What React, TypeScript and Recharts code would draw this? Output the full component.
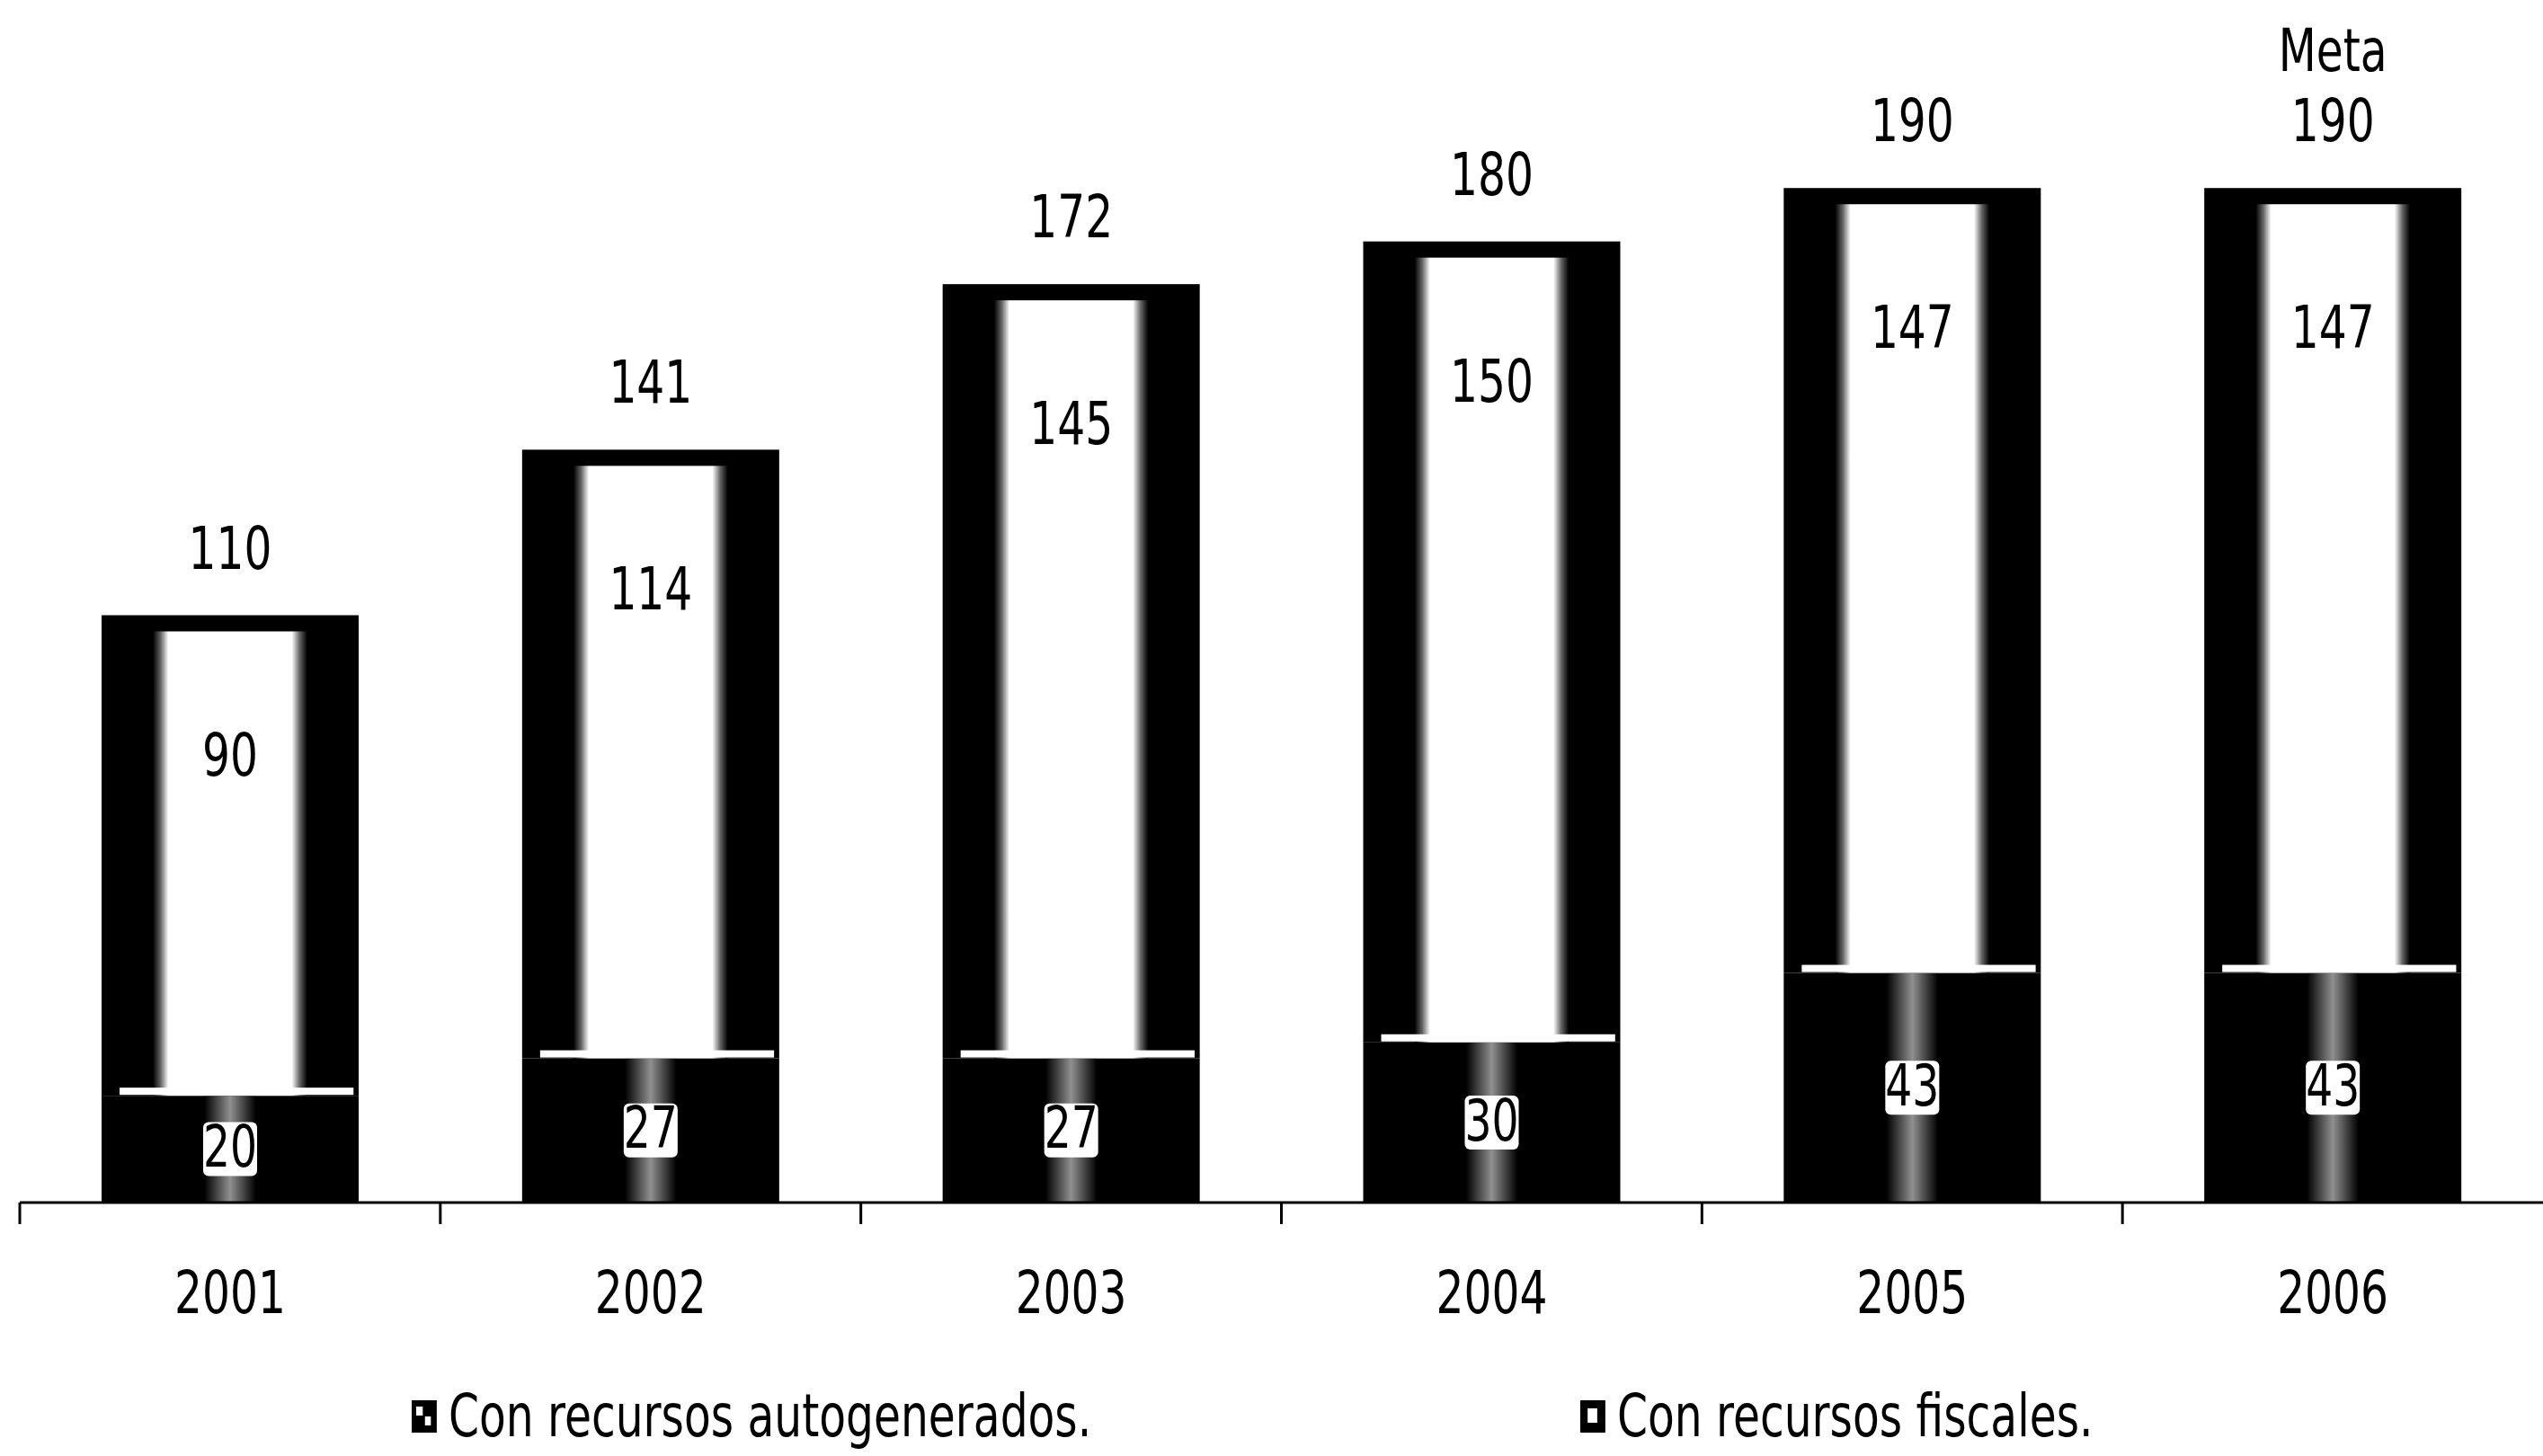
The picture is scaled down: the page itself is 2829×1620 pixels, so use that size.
import { BarChart, Bar, XAxis, YAxis, LabelList } from "recharts";

const YEARS = ["2001", "2002", "2003", "2004", "2005", "2006"];
const AUTOGENERADOS = [20, 27, 27, 30, 43, 43];
const FISCALES = [90, 114, 145, 150, 147, 147];
const TOTALES = [110, 141, 172, 180, 190, 190];
const NOTAS = ["", "", "", "", "", "Meta"];

const data = YEARS.map((year, i) => ({
  year,
  autogenerados: AUTOGENERADOS[i],
  fiscales: FISCALES[i],
  total: TOTALES[i],
}));

const W = 2829;
const H = 1620;
const MARGIN = { top: 31, right: 0, left: 22, bottom: 132 };
const BAND = (W - MARGIN.left - MARGIN.right) / YEARS.length;
const FONT = "'Liberation Sans Narrow', 'DejaVu Sans Condensed', 'Open Sans', sans-serif";
const FS = 66;
const SQUEEZE = 0.82; // the print uses a condensed face, narrower than what we have

// condensed-looking svg text
const T = ({ x, y, size = FS, children, middle }: any) => (
  <text transform={`translate(${x} ${y}) scale(${SQUEEZE} 1)`} textAnchor="middle"
    dominantBaseline={middle ? "middle" : "auto"} fontFamily={FONT} fontSize={size} fill="#000">
    {children}
  </text>
);

// top segment: black cylinder with a white highlight and a white seam at the bottom
const TopShape = (props: any) => {
  const { x, y, width, height } = props;
  if (!height) return null;
  return (
    <g>
      <rect x={x} y={y} width={width} height={height} fill="#000" />
      <rect x={x + width * 0.2} y={y + 18} width={width * 0.6} height={height - 18} fill="url(#hiTop)" />
      <rect x={x + width * 0.07} y={y + height - 9} width={width * 0.91} height={8} fill="#fff" />
    </g>
  );
};

// bottom segment: black with a narrow grey streak in the middle
const BottomShape = (props: any) => {
  const { x, y, width, height } = props;
  if (!height) return null;
  return (
    <g>
      <rect x={x} y={y} width={width} height={height} fill="#000" />
      <rect x={x + width * 0.4} y={y} width={width * 0.2} height={height} fill="url(#hiBottom)" />
    </g>
  );
};

const InnerLabel = (props: any) => {
  const { x, y, width, value } = props;
  return <T x={x + width / 2} y={y + 160} middle>{value}</T>;
};

const BottomLabel = (props: any) => {
  const { x, y, width, height, value } = props;
  const cx = x + width / 2;
  const cy = y + height / 2;
  return (
    <g>
      <rect x={cx - 30} y={cy - 30} width={60} height={60} rx={6} fill="#fff" />
      <T x={cx} y={cy + 2} size={FS - 2} middle>{value}</T>
    </g>
  );
};

const TotalLabel = (props: any) => {
  const { x, y, width, index } = props;
  const cx = x + width / 2;
  const nota = NOTAS[index];
  return (
    <g>
      {nota && <T x={cx} y={y - 52 - 78}>{nota}</T>}
      <T x={cx} y={y - 52}>{TOTALES[index]}</T>
    </g>
  );
};

const YearTick = (props: any) => {
  const { x, y, payload } = props;
  const left = x - BAND / 2;
  return (
    <g>
      <line x1={left} y1={y} x2={left} y2={y + 24} stroke="#000" strokeWidth={3} />
      <T x={x} y={y + 105} middle>{payload.value}</T>
    </g>
  );
};

const LegendIcon = ({ kind }: { kind: "auto" | "fiscal" }) => (
  <svg width={34} height={36} style={{ display: "block" }}>
    <rect x={0} y={0} width={34} height={36} fill="#000" />
    {kind === "auto" ? (
      <>
        <rect x={6} y={7} width={9} height={10} fill="#fff" />
        <rect x={18} y={18} width={8} height={10} fill="#fff" />
      </>
    ) : (
      <rect x={10} y={9} width={13} height={16} fill="#fff" />
    )}
  </svg>
);

const LEGEND = [
  { label: "Con recursos autogenerados.", kind: "auto" as const, left: 458 },
  { label: "Con recursos fiscales.", kind: "fiscal" as const, left: 1758 },
];

export default function App() {
  return (
    <div style={{ position: "absolute", left: 0, top: 0, width: W, height: H, background: "#fff", overflow: "hidden" }}>
      <BarChart width={W} height={H} data={data} margin={MARGIN} barSize={286}>
        <defs>
          <linearGradient id="hiTop" x1="0" y1="0" x2="1" y2="0">
            <stop offset="0" stopColor="#000" />
            <stop offset="0.05" stopColor="#666" />
            <stop offset="0.1" stopColor="#fff" />
            <stop offset="0.9" stopColor="#fff" />
            <stop offset="0.95" stopColor="#666" />
            <stop offset="1" stopColor="#000" />
          </linearGradient>
          <linearGradient id="hiBottom" x1="0" y1="0" x2="1" y2="0">
            <stop offset="0" stopColor="#000" />
            <stop offset="0.5" stopColor="#909090" />
            <stop offset="1" stopColor="#000" />
          </linearGradient>
        </defs>
        <XAxis
          dataKey="year"
          height={150}
          interval={0}
          tickSize={0}
          tickMargin={0}
          tickLine={false}
          axisLine={{ stroke: "#000", strokeWidth: 3 }}
          tick={<YearTick />}
        />
        <YAxis hide domain={[0, 220]} />
        <Bar dataKey="autogenerados" stackId="a" shape={BottomShape} isAnimationActive={false}>
          <LabelList dataKey="autogenerados" content={BottomLabel} />
        </Bar>
        <Bar dataKey="fiscales" stackId="a" shape={TopShape} isAnimationActive={false}>
          <LabelList dataKey="fiscales" content={InnerLabel} />
          <LabelList dataKey="total" content={TotalLabel} />
        </Bar>
      </BarChart>
      {LEGEND.map(item => (
        <div key={item.label}
          style={{ position: "absolute", left: item.left, top: 1538, display: "flex", alignItems: "center", gap: 16,
            fontFamily: FONT, fontSize: FS, color: "#000", lineHeight: 1.15, whiteSpace: "nowrap",
            transform: `scaleX(${SQUEEZE})`, transformOrigin: "left center" }}>
          <LegendIcon kind={item.kind} />
          <span>{item.label}</span>
        </div>
      ))}
    </div>
  );
}
